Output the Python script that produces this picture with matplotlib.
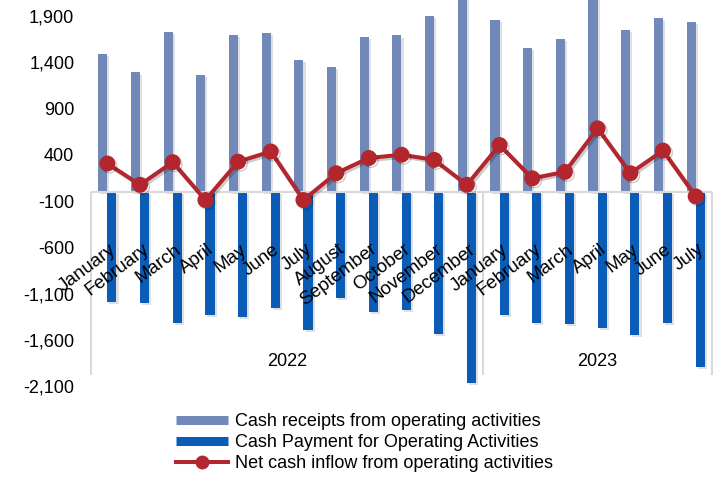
#import matplotlib modules for the chart
import matplotlib.pyplot as plt
import matplotlib.ticker as mtick
import matplotlib.patheffects as pe
from matplotlib.lines import Line2D
import numpy as np

#month names for the category axis (Jan 2022 - Jul 2023)
months = ["January", "February", "March", "April", "May", "June", "July",
          "August", "September", "October", "November", "December",
          "January", "February", "March", "April", "May", "June", "July"]
years = ["2022", "2023"]

#values
receipts = [1490, 1290, 1730, 1260, 1695, 1715, 1425, 1345, 1670, 1690,
            1900, 2145, 1855, 1550, 1650, 2160, 1750, 1875, 1840]
payments = [-1190, -1205, -1415, -1330, -1350, -1260, -1495, -1150, -1295,
            -1280, -1540, -2070, -1330, -1415, -1430, -1475, -1550, -1415, -1890]
net = [305, 75, 320, -90, 325, 435, -90, 200, 365, 400, 345, 75,
       505, 145, 215, 685, 200, 445, -50]

yticks = list(range(-2100, 1901, 500))

plt.rcParams['font.family'] = ['Liberation Sans', 'DejaVu Sans']

c_rec = '#7189B9'
c_pay = '#0B5CB6'
c_net = '#B3262D'
c_axis = '#D9D9D9'

fig = plt.figure(figsize=(7.24, 4.79), dpi=100)
ax = fig.add_axes([91 / 724, 1 - 386 / 479, (712 - 91) / 724, 386 / 479])

x = np.arange(len(months))
shadow = [pe.SimplePatchShadow(offset=(1.5, -1.5), shadow_rgbFace='#999999', alpha=0.3), pe.Normal()]

bars1 = ax.bar(x - 0.14, receipts, width=0.28, color=c_rec, zorder=2)
bars2 = ax.bar(x + 0.14, payments, width=0.28, color=c_pay, zorder=2)
for b in list(bars1) + list(bars2):
    b.set_path_effects(shadow)

#category axis line at zero and the group separators
ax.axhline(0, color=c_axis, lw=1.5, zorder=2.5)
ax.vlines([-0.5, 11.5, 18.5], -1980, 0, color=c_axis, lw=1.5, clip_on=False, zorder=2.5)

ax.plot(x, net, color=c_net, lw=2.9, marker='o', ms=10.5, zorder=5,
        path_effects=[pe.SimpleLineShadow(offset=(1.5, -1.5), alpha=0.2), pe.Normal()])

#month labels, rotated
for i, m in enumerate(months):
    ax.text(i + 0.05, -530, m, rotation=37, rotation_mode='anchor',
            ha='right', va='top', fontsize=13.5, zorder=6)

#year labels under each group
ax.text(5.5, -1840, years[0], ha='center', va='center', fontsize=13)
ax.text(15, -1840, years[1], ha='center', va='center', fontsize=13)

ax.set_xlim(-0.5, 18.5)
ax.set_ylim(-2100, 2073)
ax.set_xticks([])
ax.set_yticks(yticks)
#plain hyphen for negatives, thousands separator
ax.yaxis.set_major_formatter(mtick.FuncFormatter(lambda v, p: f'{v:,.0f}'))
ax.tick_params(axis='y', length=0, pad=12, labelsize=13)
for s in ax.spines.values():
    s.set_visible(False)

handles = [Line2D([], [], color=c_rec, lw=6.5, solid_capstyle='butt'),
           Line2D([], [], color=c_pay, lw=6.5, solid_capstyle='butt'),
           Line2D([], [], color=c_net, lw=2.9, marker='o', ms=9)]
labels = ["Cash receipts from operating activities",
          "Cash Payment for Operating Activities",
          "Net cash inflow from operating activities"]
fig.legend(handles, labels, loc='center', bbox_to_anchor=(0.503, 0.076),
           frameon=False, fontsize=13, handlelength=2.9, handletextpad=0.35,
           labelspacing=0.22, borderpad=0)

fig.savefig('out.png', dpi=100)
